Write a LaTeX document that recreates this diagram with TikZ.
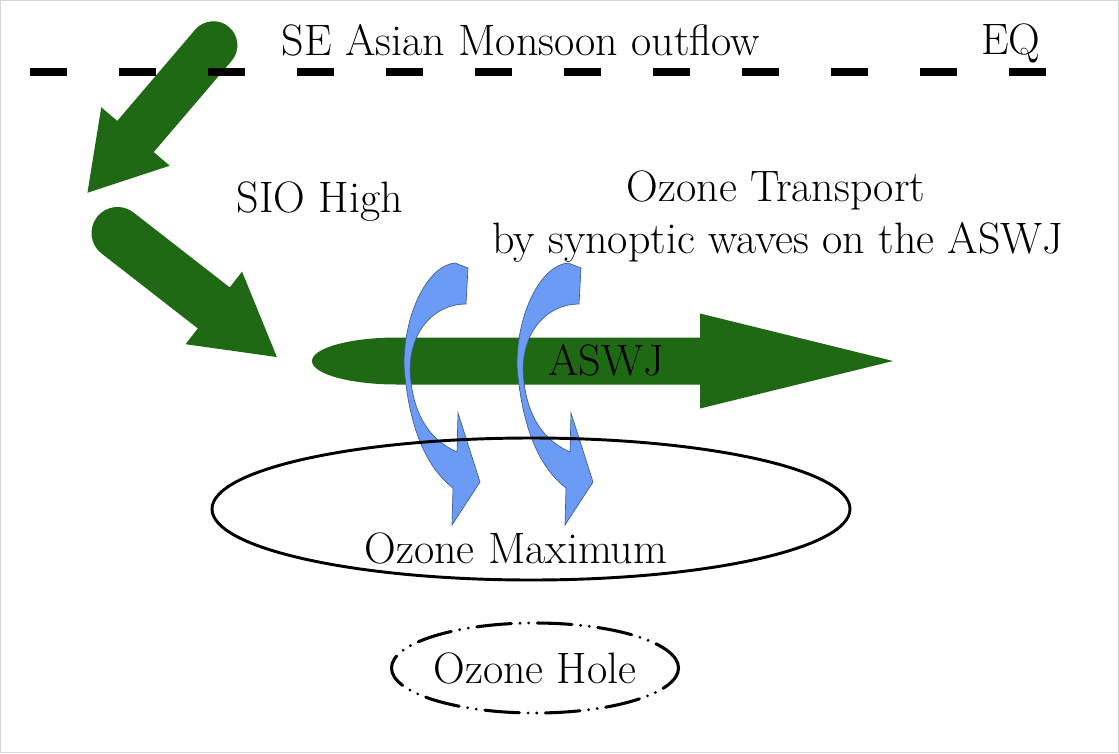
\documentclass[tikz,border=0pt]{standalone}
\usetikzlibrary{shapes.geometric}
\definecolor{Jet}{HTML}{1F6914}
\definecolor{Wave}{HTML}{6B9BF5}
\definecolor{WaveEdge}{HTML}{3E5C92}
\definecolor{Frame}{HTML}{D6D6D6}

% tail point, angle, length, shaft half width, head half width, head length, cap length
\newcommand\flowarrow[7]{%
  \begin{scope}[shift={#1},rotate=#2]
    \fill[Jet] (0,0) .. controls (0,0.552*#4) and (0.448*#7,#4) .. (#7,#4)
      -- (#3-#6,#4) -- (#3-#6,#5) -- (#3,0) -- (#3-#6,-#5) -- (#3-#6,-#4) -- (#7,-#4)
      .. controls (0.448*#7,-#4) and (0,-0.552*#4) .. (0,0) -- cycle;
  \end{scope}}

\begin{document}
\begin{tikzpicture}[x=0.75pt,y=-0.75pt,
  txt/.style={font=\fontsize{33}{40}\selectfont,inner sep=0pt},
  wave/.style={fill=Wave,draw=WaveEdge,line width=0.5pt},
  curl/.pic={
    \filldraw[wave] (0,0) -- (13,5) -- (11,41)
      .. controls (-20,41) and (-45,67) .. (-45,107)
      .. controls (-43,152) and (-25,177) .. (2,189)
      -- (3,150) -- (25,219) -- (-3,262) -- (-2,225)
      .. controls (-32,202) and (-47,157) .. (-51,102)
      .. controls (-51,48) and (-26,2) .. (0,0) -- cycle;}]
\path[use as bounding box,fill=white] (0,0) rectangle (1119,753);
\draw[Frame,line width=0.75pt] (0.5,0.5) rectangle (1118.5,752.5);

% green flow arrows
\flowarrow{(229,27)}{-130.5}{218}{24}{45}{74}{24}
\flowarrow{(97,217)}{-37.9}{228}{26}{46}{80}{26}
\flowarrow{(312,361)}{0}{581}{23.5}{47.5}{193}{85}

% synoptic waves
\pic at (455,263) {curl};
\pic at (568,263) {curl};

% ozone regions
\node[ellipse,draw,line width=2.2pt,minimum width=478.5pt,minimum height=106.5pt,inner sep=0pt] (ozmax) at (531,509) {};
\node[txt,anchor=base] (ozmaxtext) at (516,563) {Ozone Maximum};
\node[txt,ellipse,draw,line width=2.3pt,line cap=round,
  dash pattern=on 26pt off 6.5pt on 0pt off 6.5pt on 0pt off 6.5pt,
  minimum width=206pt,minimum height=67.5pt] (hole) at (535,668) {Ozone Hole};

% equator
\coordinate (eqW) at (30,72);
\coordinate (eqE) at (1048,72);
\draw[line width=6.5pt,dash pattern=on 27.75pt off 39pt] (eqW) -- (eqE);

% labels
\node[txt,anchor=base] (outflow) at (521,55) {SE Asian Monsoon outflow};
\node[txt,anchor=base] (eq) at (1011,54) {EQ};
\node[txt,anchor=base] (sio) at (320,212) {SIO High};
\node[txt,anchor=base] (transport) at (776,201) {Ozone Transport};
\node[txt,anchor=base] (synoptic) at (778,253) {by synoptic waves on the ASWJ};
\node[txt,anchor=base] (aswj) at (606,375) {ASWJ};
\end{tikzpicture}
\end{document}
